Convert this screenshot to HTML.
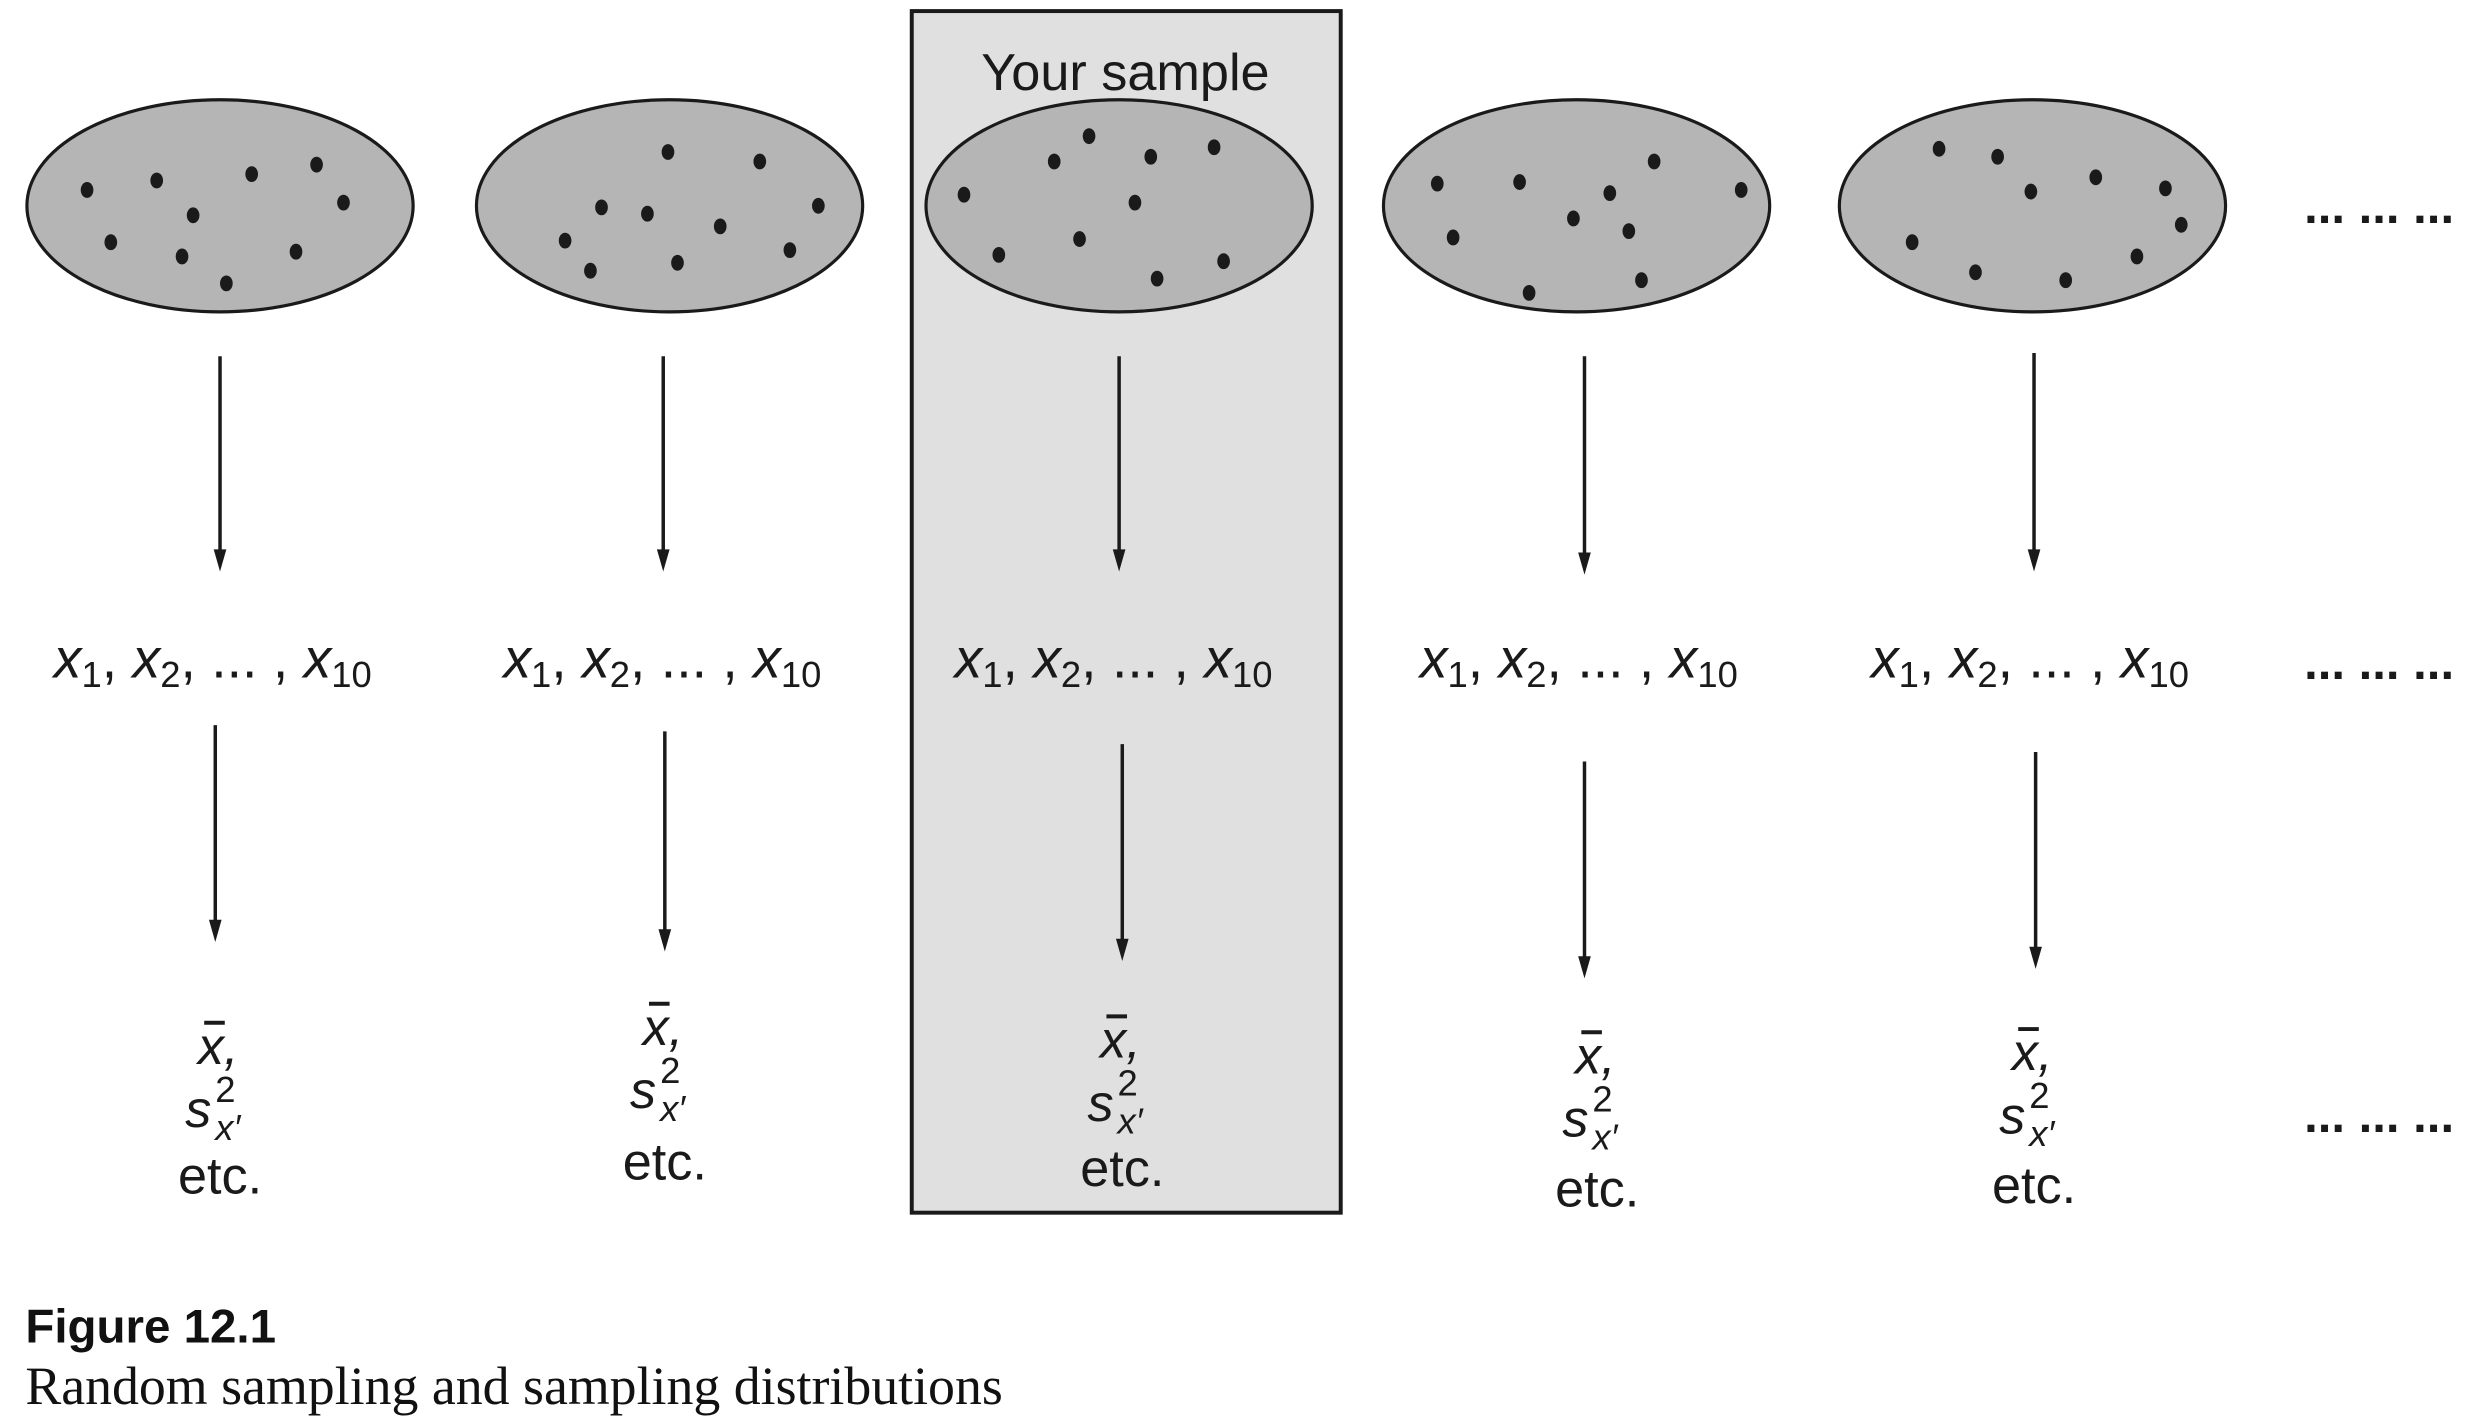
<!DOCTYPE html>
<html><head><meta charset="utf-8"><style>
html,body{margin:0;padding:0;background:#fff;}
svg{display:block;}
.m{font-family:"Liberation Sans Narrow","Liberation Sans",sans-serif;fill:#1a1a1a;}
</style></head><body>
<svg width="2482" height="1428" viewBox="0 0 1568 902" preserveAspectRatio="none" xmlns="http://www.w3.org/2000/svg">
<rect x="576" y="7" width="271" height="759" fill="#e0e0e0" stroke="#1a1a1a" stroke-width="2.5"/>
<text class="m" x="711" y="57" font-size="33" text-anchor="middle">Your sample</text>

<g fill="#b5b5b5" stroke="#1a1a1a" stroke-width="2">
<ellipse cx="139" cy="130" rx="122" ry="67"/>
<ellipse cx="423" cy="130" rx="122" ry="67"/>
<ellipse cx="707" cy="130" rx="122" ry="67"/>
<ellipse cx="996" cy="130" rx="122" ry="67"/>
<ellipse cx="1284" cy="130" rx="122" ry="67"/>
</g>
<g fill="#1a1a1a">
<ellipse cx="55" cy="120" rx="4" ry="5"/><ellipse cx="99" cy="114" rx="4" ry="5"/><ellipse cx="159" cy="110" rx="4" ry="5"/><ellipse cx="200" cy="104" rx="4" ry="5"/><ellipse cx="217" cy="128" rx="4" ry="5"/><ellipse cx="122" cy="136" rx="4" ry="5"/><ellipse cx="70" cy="153" rx="4" ry="5"/><ellipse cx="115" cy="162" rx="4" ry="5"/><ellipse cx="187" cy="159" rx="4" ry="5"/><ellipse cx="143" cy="179" rx="4" ry="5"/>
<ellipse cx="422" cy="96" rx="4" ry="5"/><ellipse cx="480" cy="102" rx="4" ry="5"/><ellipse cx="380" cy="131" rx="4" ry="5"/><ellipse cx="409" cy="135" rx="4" ry="5"/><ellipse cx="455" cy="143" rx="4" ry="5"/><ellipse cx="517" cy="130" rx="4" ry="5"/><ellipse cx="357" cy="152" rx="4" ry="5"/><ellipse cx="373" cy="171" rx="4" ry="5"/><ellipse cx="428" cy="166" rx="4" ry="5"/><ellipse cx="499" cy="158" rx="4" ry="5"/>
<ellipse cx="688" cy="86" rx="4" ry="5"/><ellipse cx="666" cy="102" rx="4" ry="5"/><ellipse cx="727" cy="99" rx="4" ry="5"/><ellipse cx="767" cy="93" rx="4" ry="5"/><ellipse cx="609" cy="123" rx="4" ry="5"/><ellipse cx="717" cy="128" rx="4" ry="5"/><ellipse cx="682" cy="151" rx="4" ry="5"/><ellipse cx="631" cy="161" rx="4" ry="5"/><ellipse cx="731" cy="176" rx="4" ry="5"/><ellipse cx="773" cy="165" rx="4" ry="5"/>
<ellipse cx="908" cy="116" rx="4" ry="5"/><ellipse cx="960" cy="115" rx="4" ry="5"/><ellipse cx="1045" cy="102" rx="4" ry="5"/><ellipse cx="1017" cy="122" rx="4" ry="5"/><ellipse cx="1100" cy="120" rx="4" ry="5"/><ellipse cx="994" cy="138" rx="4" ry="5"/><ellipse cx="1029" cy="146" rx="4" ry="5"/><ellipse cx="918" cy="150" rx="4" ry="5"/><ellipse cx="1037" cy="177" rx="4" ry="5"/><ellipse cx="966" cy="185" rx="4" ry="5"/>
<ellipse cx="1225" cy="94" rx="4" ry="5"/><ellipse cx="1262" cy="99" rx="4" ry="5"/><ellipse cx="1324" cy="112" rx="4" ry="5"/><ellipse cx="1283" cy="121" rx="4" ry="5"/><ellipse cx="1368" cy="119" rx="4" ry="5"/><ellipse cx="1378" cy="142" rx="4" ry="5"/><ellipse cx="1208" cy="153" rx="4" ry="5"/><ellipse cx="1248" cy="172" rx="4" ry="5"/><ellipse cx="1305" cy="177" rx="4" ry="5"/><ellipse cx="1350" cy="162" rx="4" ry="5"/>
</g>
<g class="m" font-size="31" font-weight="bold" text-anchor="middle">
<text x="1503" y="141">... ... ...</text>
<text x="1503" y="429">... ... ...</text>
<text x="1503" y="715">... ... ...</text>
</g>

<g stroke="#1a1a1a" stroke-width="2.2">
<line x1="139" y1="225" x2="139" y2="350"/>
<line x1="419" y1="225" x2="419" y2="350"/>
<line x1="707" y1="225" x2="707" y2="350"/>
<line x1="1001" y1="225" x2="1001" y2="352"/>
<line x1="1285" y1="223" x2="1285" y2="350"/>
<line x1="136" y1="458" x2="136" y2="584"/>
<line x1="420" y1="462" x2="420" y2="590"/>
<line x1="709" y1="470" x2="709" y2="596"/>
<line x1="1001" y1="481" x2="1001" y2="607"/>
<line x1="1286" y1="475" x2="1286" y2="601"/>
</g>
<g fill="#1a1a1a">
<polygon points="135,347 143,347 139,361"/>
<polygon points="415,347 423,347 419,361"/>
<polygon points="703,347 711,347 707,361"/>
<polygon points="997,349 1005,349 1001,363"/>
<polygon points="1281,347 1289,347 1285,361"/>
<polygon points="132,581 140,581 136,595"/>
<polygon points="416,587 424,587 420,601"/>
<polygon points="705,593 713,593 709,607"/>
<polygon points="997,604 1005,604 1001,618"/>
<polygon points="1282,598 1290,598 1286,612"/>
</g>

<g class="m" font-size="35">
<text x="34" y="428"><tspan font-style="italic">x</tspan><tspan font-size="23" dy="6">1</tspan><tspan dy="-6">, </tspan><tspan font-style="italic">x</tspan><tspan font-size="23" dy="6">2</tspan><tspan dy="-6">, ... , </tspan><tspan font-style="italic">x</tspan><tspan font-size="23" dy="6">10</tspan></text>
<text x="318" y="428"><tspan font-style="italic">x</tspan><tspan font-size="23" dy="6">1</tspan><tspan dy="-6">, </tspan><tspan font-style="italic">x</tspan><tspan font-size="23" dy="6">2</tspan><tspan dy="-6">, ... , </tspan><tspan font-style="italic">x</tspan><tspan font-size="23" dy="6">10</tspan></text>
<text x="603" y="428"><tspan font-style="italic">x</tspan><tspan font-size="23" dy="6">1</tspan><tspan dy="-6">, </tspan><tspan font-style="italic">x</tspan><tspan font-size="23" dy="6">2</tspan><tspan dy="-6">, ... , </tspan><tspan font-style="italic">x</tspan><tspan font-size="23" dy="6">10</tspan></text>
<text x="897" y="428"><tspan font-style="italic">x</tspan><tspan font-size="23" dy="6">1</tspan><tspan dy="-6">, </tspan><tspan font-style="italic">x</tspan><tspan font-size="23" dy="6">2</tspan><tspan dy="-6">, ... , </tspan><tspan font-style="italic">x</tspan><tspan font-size="23" dy="6">10</tspan></text>
<text x="1182" y="428"><tspan font-style="italic">x</tspan><tspan font-size="23" dy="6">1</tspan><tspan dy="-6">, </tspan><tspan font-style="italic">x</tspan><tspan font-size="23" dy="6">2</tspan><tspan dy="-6">, ... , </tspan><tspan font-style="italic">x</tspan><tspan font-size="23" dy="6">10</tspan></text>
</g>

<g class="m">
<g transform="translate(139,672)">
<line x1="-10" y1="-26" x2="3" y2="-26" stroke="#1a1a1a" stroke-width="2.5"/>
<text x="-14" y="0" font-size="33" font-style="italic">x,</text>
<text x="-22" y="40" font-size="33" font-style="italic">s</text>
<text x="-3" y="24" font-size="23">2</text>
<text x="-3" y="48" font-size="23" font-style="italic">x′</text>
<text x="0" y="82" font-size="33" text-anchor="middle">etc.</text>
</g>
<g transform="translate(420,660)">
<line x1="-10" y1="-26" x2="3" y2="-26" stroke="#1a1a1a" stroke-width="2.5"/>
<text x="-14" y="0" font-size="33" font-style="italic">x,</text>
<text x="-22" y="40" font-size="33" font-style="italic">s</text>
<text x="-3" y="24" font-size="23">2</text>
<text x="-3" y="48" font-size="23" font-style="italic">x′</text>
<text x="0" y="85" font-size="33" text-anchor="middle">etc.</text>
</g>
<g transform="translate(709,668)">
<line x1="-10" y1="-26" x2="3" y2="-26" stroke="#1a1a1a" stroke-width="2.5"/>
<text x="-14" y="0" font-size="33" font-style="italic">x,</text>
<text x="-22" y="40" font-size="33" font-style="italic">s</text>
<text x="-3" y="24" font-size="23">2</text>
<text x="-3" y="48" font-size="23" font-style="italic">x′</text>
<text x="0" y="81" font-size="33" text-anchor="middle">etc.</text>
</g>
<g transform="translate(1009,678)">
<line x1="-10" y1="-26" x2="3" y2="-26" stroke="#1a1a1a" stroke-width="2.5"/>
<text x="-14" y="0" font-size="33" font-style="italic">x,</text>
<text x="-22" y="40" font-size="33" font-style="italic">s</text>
<text x="-3" y="24" font-size="23">2</text>
<text x="-3" y="48" font-size="23" font-style="italic">x′</text>
<text x="0" y="84" font-size="33" text-anchor="middle">etc.</text>
</g>
<g transform="translate(1285,676)">
<line x1="-10" y1="-26" x2="3" y2="-26" stroke="#1a1a1a" stroke-width="2.5"/>
<text x="-14" y="0" font-size="33" font-style="italic">x,</text>
<text x="-22" y="40" font-size="33" font-style="italic">s</text>
<text x="-3" y="24" font-size="23">2</text>
<text x="-3" y="48" font-size="23" font-style="italic">x′</text>
<text x="0" y="84" font-size="33" text-anchor="middle">etc.</text>
</g>
</g>

<text x="16" y="848" font-family="Liberation Sans Narrow, Liberation Sans, sans-serif" font-weight="bold" font-size="30" fill="#111">Figure 12.1</text>
<text x="16" y="887" font-family="Liberation Serif, serif" font-size="34" fill="#111">Random sampling and sampling distributions</text>
</svg>
</body></html>
